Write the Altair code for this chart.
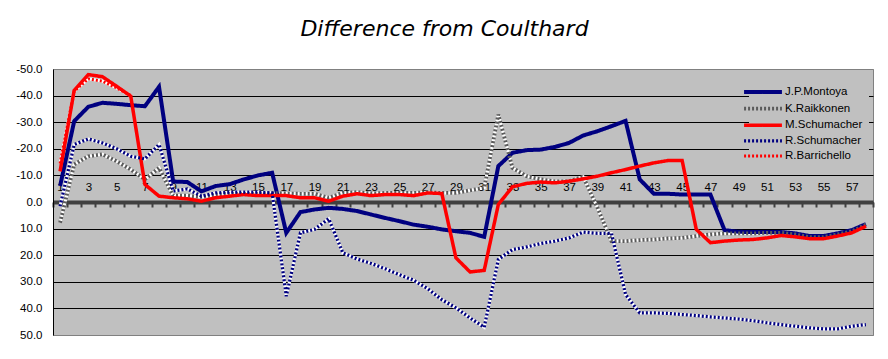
import altair as alt
import pandas as pd

laps = list(range(1, 59))

montoya = [-6.0, -30.4, -35.8, -37.3, -36.9, -36.4, -36.0, -43.3, -7.7, -7.5,
           -4.0, -6.0, -6.7, -8.5, -10.0, -11.0, 11.6, 3.8, 2.8, 2.2,
           2.6, 3.4, 4.7, 6.0, 7.2, 8.5, 9.3, 10.3, 11.0, 11.6,
           13.1, -13.5, -18.5, -19.5, -19.7, -20.7, -22.2, -25.0, -26.6, -28.5,
           -30.5, -8.5, -3.1, -3.1, -2.8, -2.8, -2.8, 10.6, 11.2, 11.3,
           11.3, 11.3, 11.8, 12.8, 12.8, 11.8, 10.6, 8.3]

raikkonen = [7.8, -14.1, -17.2, -17.9, -15.3, -12.2, -8.5, -12.8, -2.4, -2.4,
             -1.9, -2.8, -3.1, -3.1, -3.1, -3.4, -3.2, -3.1, -3.1, -1.6,
             -3.4, -3.7, -3.2, -3.4, -3.4, -3.4, -3.7, -3.4, -3.4, -4.4,
             -5.3, -32.9, -12.8, -9.7, -8.5, -7.8, -7.8, -9.5, 2.0, 14.7,
             14.7, 14.3, 14.1, 13.7, 13.5, 12.8, 12.2, 11.8, 11.8, 11.8,
             11.6, 11.6, 12.2, 13.2, 13.2, 12.2, 11.0, 8.5]

m_schumacher = [-11.5, -42.0, -47.9, -47.1, -43.5, -39.8, -6.6, -2.2, -1.6, -1.2,
                -0.3, -1.6, -2.2, -2.8, -2.4, -2.4, -2.4, -1.6, -1.6, -0.3,
                -2.2, -3.1, -2.4, -2.8, -2.8, -2.4, -3.4, -3.2, 21.0, 26.3,
                25.7, 0.9, -5.7, -7.0, -7.5, -7.2, -7.8, -8.7, -9.7, -11.0,
                -12.2, -13.5, -14.7, -15.6, -15.6, 10.3, 15.3, 14.7, 14.3, 14.1,
                13.5, 12.6, 13.1, 13.8, 13.8, 12.8, 11.6, 9.1]

r_schumacher = [1.6, -21.6, -23.7, -22.2, -20.0, -17.2, -16.2, -21.6, -4.1, -4.9,
                -2.2, -3.4, -3.7, -3.7, -3.7, -3.4, 35.4, 11.6, 10.3, 6.3,
                19.1, 21.4, 23.1, 25.1, 27.3, 29.4, 32.6, 36.7, 39.8, 43.6,
                47.1, 21.6, 17.9, 16.9, 15.6, 14.7, 13.5, 11.3, 11.8, 11.8,
                34.8, 41.7, 41.7, 41.9, 42.3, 42.7, 43.2, 43.6, 44.0, 44.6,
                45.4, 46.1, 46.7, 47.3, 47.7, 47.7, 46.7, 46.1]

barrichello = [-14.5, -41.7, -46.3, -45.4, -42.9, -40.0]

names = ["J.P.Montoya", "K.Raikkonen", "M.Schumacher", "R.Schumacher", "R.Barrichello"]
colors = ["#000080", "#5A5A5A", "#FF0000", "#000080", "#FF0000"]
dashes = [[1, 0], [2, 2], [1, 0], [2, 2], [2, 2]]
widths = [4, 3, 4, 3, 3]
dotted = ["K.Raikkonen", "R.Schumacher", "R.Barrichello"]

x_label_laps = list(range(1, 58, 2))
x_tick_pos = [k + 0.5 for k in range(0, 59)]
y_ticks = list(range(-50, 51, 10))

rows = []
for name, vals in zip(names, [montoya, raikkonen, m_schumacher, r_schumacher, barrichello]):
    for lap, v in zip(laps, vals):
        rows.append({"series": name, "lap": lap, "diff": v})
df = pd.DataFrame(rows)

xscale = alt.Scale(domain=[0.5, 58.5], nice=False, zero=False)
yscale = alt.Scale(domain=[-50, 50], reverse=True, nice=False, zero=False)

yaxis = alt.Axis(values=y_ticks, labelExpr="datum.value + '.0'", grid=True,
                 gridColor={"condition": {"test": "abs(datum.value) == 50", "value": "#808080"},
                            "value": "black"},
                 gridWidth=1, domain=True, domainColor="black", domainWidth=1,
                 ticks=False, labelPadding=11, labelFontSize=11.5,
                 labelFont="Liberation Sans", labelColor="black", title=None)

label_axis = alt.Axis(orient="top", offset=-133, values=x_label_laps, format="d",
                      domain=False, ticks=False, tickSize=0, grid=False, labelPadding=10,
                      labelFontSize=11.5, labelFont="Liberation Sans", labelColor="black",
                      title=None, labelFlush=False, labelOverlap=False)

tick_axis = alt.Axis(orient="bottom", offset=-133, values=x_tick_pos, labels=False,
                     domain=True, domainColor="#404040", domainWidth=4,
                     ticks=True, tickColor="#404040", tickWidth=2, tickSize=5,
                     grid=False, title=None)

leg = alt.Legend(orient="none", legendX=696, legendY=9, title=None,
                 symbolType="M-3.2,0H3.2", symbolSize=140, labelFontSize=11.5,
                 labelFont="Liberation Sans", labelColor="black", fillColor="#C0C0C0",
                 padding=6, rowPadding=0.6, labelOffset=14)

under = alt.Chart(df).transform_filter(
    alt.FieldOneOfPredicate(field="series", oneOf=dotted)
).mark_line(color="white", strokeWidth=3).encode(
    x=alt.X("lap:Q", scale=xscale, axis=label_axis),
    y=alt.Y("diff:Q", scale=yscale, axis=yaxis),
    detail="series:N",
)

lines = alt.Chart(df).mark_line().encode(
    x=alt.X("lap:Q", scale=xscale, axis=tick_axis),
    y=alt.Y("diff:Q", scale=yscale, axis=yaxis),
    color=alt.Color("series:N", scale=alt.Scale(domain=names, range=colors), legend=leg),
    strokeDash=alt.StrokeDash("series:N", scale=alt.Scale(domain=names, range=dashes), legend=leg),
    strokeWidth=alt.StrokeWidth("series:N", scale=alt.Scale(domain=names, range=widths), legend=leg),
)

chart = alt.layer(under, lines).resolve_axis(x="independent").properties(
    width=820, height=266,
    title=alt.TitleParams("Difference from Coulthard", font="DejaVu Sans", fontSize=22,
                          fontStyle="italic", fontWeight="normal", anchor="middle",
                          frame="group", dx=-18.5, offset=5, baseline="alphabetic",
                          color="black"),
    padding={"left": 45, "top": 61, "right": 7, "bottom": 16},
    autosize="none",
).configure_view(fill="#C0C0C0", stroke="#808080", strokeWidth=1)

chart.save("out.html", embed_options={"renderer": "svg", "actions": False})
